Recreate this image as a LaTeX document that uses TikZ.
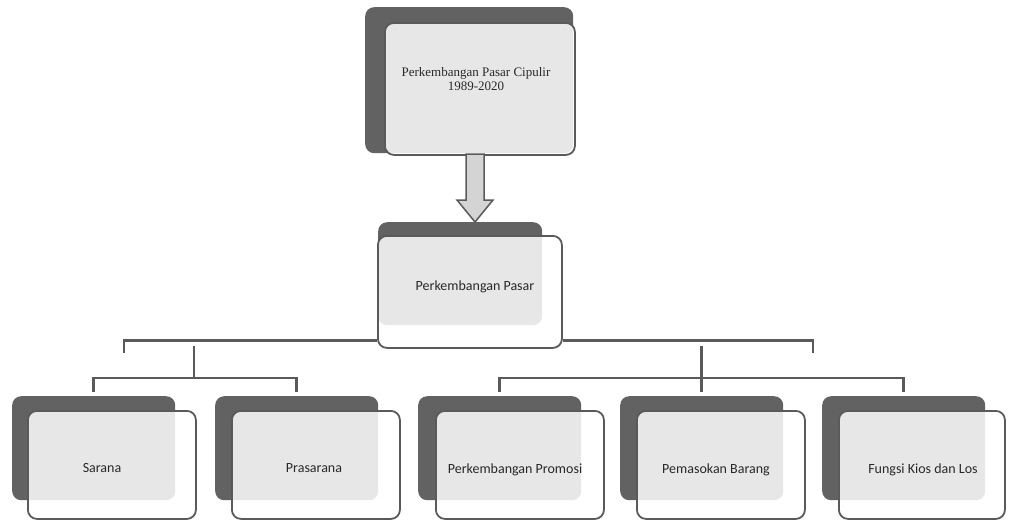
\documentclass[tikz,border=0pt]{standalone}
\usepackage{fontspec}
\setmainfont{Carlito}
\newfontfamily\titlefont{Liberation Serif}
\usetikzlibrary{positioning,calc}

\definecolor{boxdark}{HTML}{626262}
\definecolor{boxedge}{HTML}{5A5A5A}
\definecolor{arrowfill}{HTML}{D4D4D4}
\definecolor{labeltext}{HTML}{282828}

\begin{document}
\begin{tikzpicture}[x=1pt, y=-1pt]

% Define styles
\tikzstyle{backbox} = [rectangle, rounded corners=9pt, fill=boxdark, draw=none, anchor=north west, inner sep=0pt]
\tikzstyle{frontbox} = [rectangle, rounded corners=9pt, draw=boxedge, line width=1.8pt, fill=white, fill opacity=0.85, anchor=north west, inner sep=0pt]
\tikzstyle{label} = [text=labeltext, font=\fontsize{14}{16}\selectfont, align=center]
\tikzstyle{titlelabel} = [text=labeltext, font=\titlefont\fontsize{13}{14}\selectfont, align=center]
\tikzstyle{link} = [draw=boxedge, line width=2.8pt]
\tikzstyle{blockarrow} = [draw=boxedge, line width=1.5pt, fill=arrowfill, line join=miter]

\useasboundingbox (0,0) rectangle (1010,520);

% Top: Pasar Cipulir
\node (topB) [backbox, minimum width=208pt, minimum height=146pt] at (365,7) {};
\node (topF) [frontbox, minimum width=190pt, minimum height=132pt] at ($(topB.north west)+(19,15)$) {};
\node (topT) [titlelabel] at (476,79) {Perkembangan Pasar Cipulir\\1989-2020};

% Block arrow down
\coordinate (arrowtip) at (475,222);
\draw [blockarrow] (arrowtip) -- ++(18,-22) -- ++(-9,0) -- ++(0,-46) -- ++(-18,0) -- ++(0,46) -- ++(-9,0) -- cycle;

% Middle: Perkembangan Pasar
\node (midB) [backbox, minimum width=164pt, minimum height=103pt] at (378,222) {};
\node (midF) [frontbox, minimum width=184pt, minimum height=112pt] at ($(midB.north west)+(-1,13)$) {};
\node (midT) [label] at (475,287) {Perkembangan Pasar};

% Bottom row
\node (saranaB) [backbox, minimum width=163pt, minimum height=104pt] at (12,396) {};
\node (saranaF) [frontbox, minimum width=168pt, minimum height=108pt] at ($(saranaB.north west)+(15,14)$) {};
\node (saranaT) [label] at (102,468) {Sarana};

\node (prasaranaB) [backbox, minimum width=163pt, minimum height=104pt] at (215,396) {};
\node (prasaranaF) [frontbox, minimum width=168pt, minimum height=108pt] at ($(prasaranaB.north west)+(16,14)$) {};
\node (prasaranaT) [label] at (314,468) {Prasarana};

\node (promosiB) [backbox, minimum width=163pt, minimum height=104pt] at (418,396) {};
\node (promosiF) [frontbox, minimum width=168pt, minimum height=108pt] at ($(promosiB.north west)+(17,14)$) {};
\node (promosiT) [label] at (515,470) {Perkembangan Promosi};

\node (pasokB) [backbox, minimum width=163pt, minimum height=104pt] at (620,396) {};
\node (pasokF) [frontbox, minimum width=168pt, minimum height=108pt] at ($(pasokB.north west)+(16,14)$) {};
\node (pasokT) [label] at (716,470) {Pemasokan Barang};

\node (kiosB) [backbox, minimum width=163pt, minimum height=104pt] at (822,396) {};
\node (kiosF) [frontbox, minimum width=166pt, minimum height=108pt] at ($(kiosB.north west)+(16,14)$) {};
\node (kiosT) [label] at (923,470) {Fungsi Kios dan Los};

% Main bus
\coordinate (busleft) at (124,353);
\coordinate (busright) at (813,353);
\draw [link] (busleft) |- ([yshift=8pt]midF.south west);
\draw [link] ([yshift=8pt]midF.south east) -| (busright);

% Left group
\coordinate (leftstem) at (194,346);
\draw [link] (leftstem) -- ++(0,32) coordinate (leftjoin);
\draw [link] ([yshift=4pt]saranaB.north) |- (leftjoin) -| ([yshift=4pt]prasaranaB.north);

% Right group
\draw [link] ([yshift=4pt]pasokB.north) -- ++(0,-46) coordinate (rightstem);
\draw [link] ([yshift=4pt]promosiB.north) |- ($(rightstem)+(0,32)$) -| ([yshift=4pt]kiosB.north);

\end{tikzpicture}
\end{document}
